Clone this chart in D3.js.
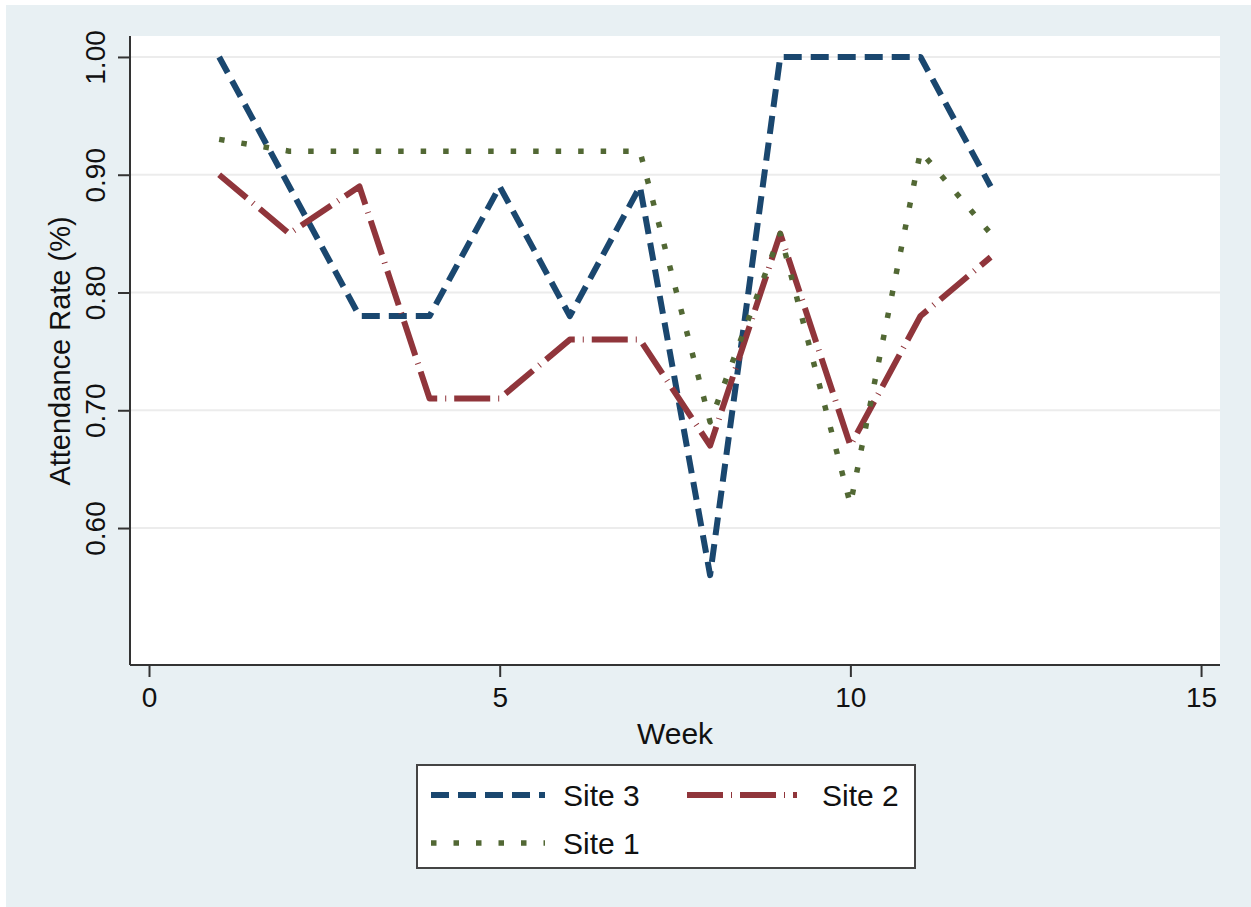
<!DOCTYPE html>
<html>
<head>
<meta charset="utf-8">
<script src="https://cdn.jsdelivr.net/npm/d3@7"></script>
<style>
  body { margin: 0; background: #fff; }
  text { font-family: "Liberation Sans", Arial, sans-serif; fill: #111; }
</style>
</head>
<body>
<div id="chart"></div>
<script>
// data
const weeks = [1, 2, 3, 4, 5, 6, 7, 8, 9, 10, 11, 12];
const site3 = [1.00, 0.89, 0.78, 0.78, 0.89, 0.78, 0.89, 0.56, 1.00, 1.00, 1.00, 0.89];
const site2 = [0.90, 0.85, 0.89, 0.71, 0.71, 0.76, 0.76, 0.67, 0.85, 0.67, 0.78, 0.83];
const site1 = [0.93, 0.92, 0.92, 0.92, 0.92, 0.92, 0.92, 0.69, 0.85, 0.62, 0.92, 0.85];
const seriesNames = ['Site 3', 'Site 2', 'Site 1'];
const xTicks = [0, 5, 10, 15];
const yTicks = [0.6, 0.7, 0.8, 0.9, 1.0];

const width = 1251, height = 907;
const plot = {left: 130, right: 1220, top: 36, bottom: 665};

const styles = {
  'Site 3': {color: '#1a476f', dash: '18,9', w: 6},
  'Site 2': {color: '#90353b', dash: '36,8,1,8', w: 6},
  'Site 1': {color: '#526834', dash: '5.5,17', w: 5.5}
};
const seriesData = [site3, site2, site1];

const svg = d3.select('#chart').append('svg')
  .attr('width', width)
  .attr('height', height);

// outer background
svg.append('rect')
  .attr('x', 6).attr('y', 5)
  .attr('width', width - 6).attr('height', height - 5)
  .attr('fill', '#e8f0f3');

// plot region
svg.append('rect')
  .attr('x', plot.left).attr('y', plot.top)
  .attr('width', plot.right - plot.left).attr('height', plot.bottom - plot.top)
  .attr('fill', '#ffffff');

const x = d3.scaleLinear().domain([-0.271, 15.27]).range([plot.left, plot.right]);
const y = d3.scaleLinear().domain([0.4837, 1.0178]).range([plot.bottom, plot.top]);

// gridlines
svg.append('g')
  .selectAll('line')
  .data(yTicks)
  .enter()
  .append('line')
  .attr('x1', plot.left).attr('x2', plot.right)
  .attr('y1', d => y(d)).attr('y2', d => y(d))
  .attr('stroke', '#ececec')
  .attr('stroke-width', 2);

// lines
const lineBuilder = d3.line()
  .x((d, i) => x(weeks[i]))
  .y(d => y(d));

seriesNames.forEach((name, k) => {
  const s = styles[name];
  svg.append('path')
    .attr('d', lineBuilder(seriesData[k]))
    .attr('fill', 'none')
    .attr('stroke', s.color)
    .attr('stroke-width', s.w)
    .attr('stroke-dasharray', s.dash)
    .attr('stroke-linejoin', 'round');
});

// y axis
const yAxis = svg.append('g')
  .attr('transform', 'translate(' + plot.left + ',0)')
  .call(d3.axisLeft(y).tickValues(yTicks).tickSize(12).tickPadding(14).tickFormat(d3.format('.2f')));
yAxis.select('.domain').attr('d', 'M0,' + plot.top + 'V' + plot.bottom).attr('stroke', '#333').attr('stroke-width', 2);
yAxis.selectAll('.tick line').attr('stroke', '#333').attr('stroke-width', 2);
yAxis.selectAll('.tick text')
  .attr('x', 0).attr('dy', 0)
  .attr('transform', 'translate(-25,0) rotate(-90)')
  .attr('text-anchor', 'middle')
  .style('font-size', '28px');

// x axis
const xAxis = svg.append('g')
  .attr('transform', 'translate(0,' + plot.bottom + ')')
  .call(d3.axisBottom(x).tickValues(xTicks).tickSize(12).tickPadding(10).tickFormat(d3.format('d')));
xAxis.select('.domain').attr('d', 'M' + plot.left + ',0H' + plot.right).attr('stroke', '#333').attr('stroke-width', 2);
xAxis.selectAll('.tick line').attr('stroke', '#333').attr('stroke-width', 2);
xAxis.selectAll('.tick text').style('font-size', '28px');

// axis titles
svg.append('text')
  .attr('x', 675).attr('y', 744)
  .attr('text-anchor', 'middle')
  .style('font-size', '30px')
  .text('Week');

svg.append('text')
  .attr('transform', 'translate(70,351) rotate(-90)')
  .attr('text-anchor', 'middle')
  .style('font-size', '29px')
  .text('Attendance Rate (%)');

// legend
svg.append('rect')
  .attr('x', 417).attr('y', 765)
  .attr('width', 498).attr('height', 103)
  .attr('fill', '#ffffff')
  .attr('stroke', '#444')
  .attr('stroke-width', 2);

const legendPos = [
  {x1: 431, x2: 545, ty: 795, tx: 563},
  {x1: 687, x2: 797, ty: 795, tx: 822},
  {x1: 431, x2: 545, ty: 843, tx: 563}
];

const legend = svg.append('g')
  .selectAll('g')
  .data(seriesNames)
  .enter()
  .append('g');

legend.append('line')
  .attr('x1', (d, i) => legendPos[i].x1)
  .attr('x2', (d, i) => legendPos[i].x2)
  .attr('y1', (d, i) => legendPos[i].ty)
  .attr('y2', (d, i) => legendPos[i].ty)
  .attr('stroke', d => styles[d].color)
  .attr('stroke-width', d => styles[d].w)
  .attr('stroke-dasharray', d => styles[d].dash);

legend.append('text')
  .attr('x', (d, i) => legendPos[i].tx)
  .attr('y', (d, i) => legendPos[i].ty + 11)
  .style('font-size', '30px')
  .text(d => d);
</script>
</body>
</html>
